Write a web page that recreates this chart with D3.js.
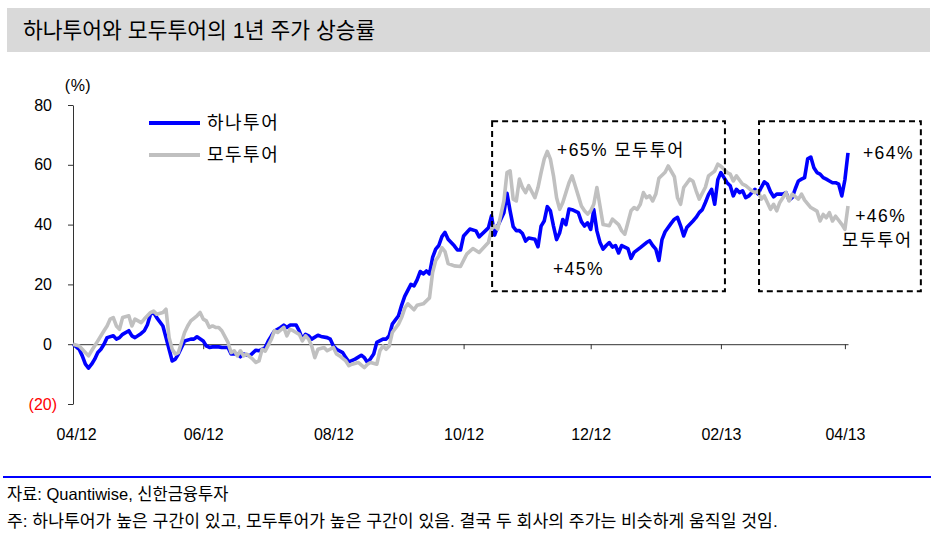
<!DOCTYPE html>
<html><head><meta charset="utf-8">
<script src="https://cdn.jsdelivr.net/npm/d3@7"></script>
<style>
body{margin:0;background:#fff;}
svg text{font-family:"Liberation Sans","Noto Sans CJK KR",sans-serif;}
</style></head><body>
<svg id="c" width="935" height="544"></svg>
<script>
const titleText = "하나투어와 모두투어의 1년 주가 상승률";
const seriesNames = ["하나투어", "모두투어"];
const sourceText = "자료: Quantiwise, 신한금융투자";
const noteText = "주: 하나투어가 높은 구간이 있고, 모두투어가 높은 구간이 있음. 결국 두 회사의 주가는 비슷하게 움직일 것임.";

// trading-day index (0 = start of 04/12) and 1-year return (%)
const hanaDay = [0,2,3,4,5,6,7,8,9,10,11,13,14,15,16,18,19,20,22,23,24,25,26,27,29,30,31,32,33,34,35,36,38,39,40,42,43,44,45,47,48,50,51,53,54,55,57,59,60,62,63,64,65,67,68,69,70,72,73,74,75,76,77,79,80,82,83,84,85,87,88,89,91,93,94,95,96,97,98,100,101,102,103,105,106,107,108,109,110,111,112,113,114,115,116,117,118,119,120,121,122,123,124,125,126,128,130,131,133,134,135,136,137,139,140,141,142,143,144,145,146,147,149,150,151,152,153,154,155,156,157,158,159,160,161,163,164,165,166,167,168,169,170,171,172,173,174,175,176,177,179,180,181,183,185,186,187,188,189,190,191,193,194,195,196,197,198,200,201,202,203,204,205,206,207,208,209,210,211,212,213,214,215,216,217,218,219,220,221,222,223,224,225,226,227,229,230,231,232,233,234,235,236,237,238,239,240,241,242,243,244,245,246,247,248,249,250];
const hanaVal = [0,-1.7,-3.9,-6.7,-8,-6.7,-5,-2.8,-1.7,0,2.2,2.8,1.7,2.2,3.3,4.5,2.8,2.2,3.6,4.5,6.5,10,10.6,8.9,6.1,2.2,-1.7,-5.6,-5,-3.3,-1.1,1.1,1.7,1.7,2.5,1.1,-0.6,-1.1,-0.9,-0.9,-1.1,-1.1,-3.3,-3.3,-4.2,-3.3,-3.9,-2,-2.2,-1.1,1.1,2.8,4.4,5.6,6.4,5.6,6.4,6.4,4.4,1.7,3.3,2.8,1.7,3.0,2.6,2.2,1.7,-0.6,-1.7,-2.8,-4.5,-5.9,-5,-3.7,-4.5,-6.1,-4.8,-3.3,0.6,1.7,1.7,2.8,6.7,9.5,13,16,18,20,19.5,21.5,24.3,23.5,24.5,23.5,29,31.8,33,36,37.4,35.1,34,32.9,31.5,31.5,36.2,38.5,37.9,35.9,37.9,38.9,42.9,36.5,39.5,44,50.5,44.6,39.3,38,38,37,34.5,35.5,35.1,32.6,39.5,41.2,46,44.6,39.5,35,37.3,41.7,40,45.2,45,44,41,39.5,40.6,38.4,45,37.9,34,31.8,33,34,32.5,33,30.5,33,32,28.7,30.7,32.3,34,34.6,33,31.8,28,35,37.6,40.5,41.8,42.4,39.6,36.2,39,41.2,42.4,44,45,47.4,50,51.8,46.8,55,57.4,55.7,54,53,49.6,51.8,50.7,51.3,49,49.6,50.7,51.8,50.2,52.4,54.3,53.5,51,49.3,50.2,50.2,50.7,48.2,49,52,54.6,55.2,55.7,62,62.6,59,57.4,56.9,55.7,55.2,54.6,54,54,53.5,49.6,55,64];

const modeDay = [0,2,3,5,6,8,10,11,12,13,14,15,16,18,19,20,22,23,25,26,27,29,30,31,32,33,34,35,36,37,38,40,41,42,43,44,45,46,47,48,50,51,52,53,54,55,56,58,59,60,61,62,64,65,66,68,69,70,71,73,74,75,76,77,78,79,81,82,84,85,86,88,89,90,92,94,95,96,98,99,100,101,102,103,105,106,107,108,109,110,111,113,114,115,116,117,118,119,120,121,123,125,127,129,131,134,135,136,137,139,140,141,142,143,144,145,146,147,149,150,151,152,153,154,155,156,157,158,159,160,161,162,163,164,165,166,167,168,169,170,171,173,174,176,177,178,179,180,181,182,183,184,185,186,187,188,189,191,192,194,195,196,197,199,200,201,202,204,205,207,208,209,211,212,213,214,216,217,219,220,221,222,223,225,226,227,228,229,230,231,232,234,235,236,238,240,241,242,243,244,245,246,248,249,250];
const modeVal = [0,-0.6,-1.7,-3.9,-2.2,1.1,4.5,6.1,8.4,8.9,6.1,5,8.9,9.5,6.1,8.4,7.2,8.4,10.6,11.1,10,10.6,11.7,2.2,-1.7,-3.3,-2.8,0.6,3.9,6.1,7.8,9.5,10.6,8.4,7.8,5.6,6.1,5.6,5.6,4.5,0.6,-2.8,-2.2,-3.9,-2.2,-3.9,-3.3,-5,-6.1,-5.6,-1.7,-2.3,1.7,4.5,3.9,5.6,2.8,5,4.5,3.3,1.1,2.8,1.7,-0.6,-4.5,-1.7,-1.1,-2.2,-1.1,-3.3,-3.9,-5.6,-7.2,-6.7,-6.1,-7.8,-6.7,-6.1,-6.7,-2.2,-0.6,-1.7,-0.6,3.9,6.7,8.9,12,13.5,12.5,11.5,13,13.5,14.5,15.5,24,28,29.5,32.3,31,27,26.2,26,30.1,32,30.7,34,38.5,39.6,38.5,47.9,57.4,58,48.5,47.9,55.2,52.4,50.7,53,49,52.4,57.4,61.9,64.5,61.9,56.3,49,45.1,47.4,50.7,54,56.3,53,49.6,46.2,44.6,43.5,44.6,46.8,52.4,46.2,40,39.6,41.8,40,37.9,36.8,40.7,44.6,45.7,45.1,46.8,50.7,49,49.6,47.9,50.2,55.5,57.5,59.6,56,49,46.8,52.4,55.2,54.5,51.3,48.5,52.5,56.3,57.9,60.2,59.5,57.4,56.9,54.6,56.3,53.5,53,51.3,50.7,51.3,48.5,49.6,45.1,46.8,44.6,47.4,49,50.7,47.9,50.2,48.5,50.2,48.2,45.7,44.5,41.2,43.4,42.3,44,41.2,42.8,40.1,38.4,46.2];

const yTicks = [-20, 0, 20, 40, 60, 80];
const xTickDays = [1, 42, 84, 126, 167, 209, 249];
const xTickLabels = ["04/12", "06/12", "08/12", "10/12", "12/12", "02/13", "04/13"];

// highlighted periods (day range, value range)
const boxDays = [[135.2, 210.3], [221.3, 273.5]];
const boxVals = [17.7, 74.6];
const noteLabels = ["+65% 모두투어", "+45%", "+64%", "+46%", "모두투어"];
const noteDays = [156.1, 154.8, 254.8, 252.3, 248.1];
const noteVals = [64.9, 25.4, 64.2, 43.1, 35.1];

const svg = d3.select("#c");
const x = d3.scaleLinear().domain([0, 250]).range([73, 848]);
const y = d3.scaleLinear().domain([-20, 80]).range([404, 105]);

// title bar
svg.append("rect").attr("x", 7).attr("y", 8).attr("width", 923).attr("height", 44).attr("fill", "#D9D9D9");
svg.append("text").attr("x", 23).attr("y", 30).attr("dy", "0.36em")
  .attr("font-size", 21.5).attr("fill", "#000").text(titleText);

// y axis
const yAxis = d3.axisLeft(y).tickValues(yTicks).tickSize(5).tickSizeOuter(0).tickPadding(16)
  .tickFormat(v => v < 0 ? "(" + (-v) + ")" : String(v));
const gy = svg.append("g").attr("transform", "translate(73,0)").call(yAxis);
gy.select(".domain").attr("stroke", "#333").attr("stroke-width", 1);
gy.selectAll(".tick line").attr("stroke", "#333");
gy.selectAll(".tick text").attr("font-size", 16).attr("font-family", null)
  .attr("fill", d => d < 0 ? "#FF0000" : "#000")
  .attr("dx", d => d < 0 ? 5 : 0);
svg.append("text").attr("x", 78).attr("y", 85).attr("dy", "0.35em").attr("text-anchor", "middle")
  .attr("font-size", 16).attr("letter-spacing", 0.5).attr("fill", "#000").text("(%)");

// x axis on zero line
const xAxis = d3.axisBottom(x).tickValues(xTickDays).tickSize(5).tickSizeOuter(0)
  .tickFormat((d, i) => xTickLabels[i]);
const gx = svg.append("g").attr("transform", `translate(0,${y(0)})`).call(xAxis);
gx.select(".domain").attr("stroke", "#333").attr("stroke-width", 1);
gx.selectAll(".tick line").attr("stroke", "#333");
gx.selectAll(".tick text").attr("font-size", 16).attr("font-family", null).attr("fill", "#000")
  .attr("y", 434 - y(0)).attr("dy", "0.35em");

// lines
const line = d3.line().x(d => x(d[0])).y(d => y(d[1]));
const hana = hanaDay.map((d, i) => [d, hanaVal[i]]);
const mode = modeDay.map((d, i) => [d, modeVal[i]]);
svg.append("path").datum(hana).attr("d", line).attr("fill", "none")
  .attr("stroke", "#0000FF").attr("stroke-width", 3.6).attr("stroke-linejoin", "round");
svg.append("path").datum(mode).attr("d", line).attr("fill", "none")
  .attr("stroke", "#C0C0C0").attr("stroke-width", 3.6).attr("stroke-linejoin", "round");

// legend
const legendColors = ["#0000FF", "#C0C0C0"];
seriesNames.forEach((n, i) => {
  const ly = 123 + i * 32;
  svg.append("line").attr("x1", 149).attr("x2", 200).attr("y1", ly).attr("y2", ly)
    .attr("stroke", legendColors[i]).attr("stroke-width", 4);
  svg.append("text").attr("x", 207).attr("y", ly).attr("dy", "0.36em")
    .attr("font-size", 18).attr("letter-spacing", 1.5).attr("fill", "#000").text(n);
});

// dashed boxes
boxDays.forEach(b => {
  svg.append("rect").attr("x", x(b[0])).attr("y", y(boxVals[1]))
    .attr("width", x(b[1]) - x(b[0])).attr("height", y(boxVals[0]) - y(boxVals[1]))
    .attr("fill", "none").attr("stroke", "#000").attr("stroke-width", 2).attr("stroke-dasharray", "6,4");
});

// annotations
noteLabels.forEach((t, i) => {
  svg.append("text").attr("x", x(noteDays[i])).attr("y", y(noteVals[i])).attr("dy", "0.36em")
    .attr("font-size", 17.5).attr("letter-spacing", 1.5).attr("fill", "#000").text(t);
});

// footer
svg.append("line").attr("x1", 3).attr("x2", 931).attr("y1", 477).attr("y2", 477)
  .attr("stroke", "#0000FF").attr("stroke-width", 2);
svg.append("text").attr("x", 7).attr("y", 494).attr("dy", "0.36em").attr("font-size", 16.5)
  .attr("fill", "#000").text(sourceText);
svg.append("text").attr("x", 7).attr("y", 521).attr("dy", "0.36em").attr("font-size", 17.2)
  .attr("fill", "#000").text(noteText);
</script>
</body></html>
